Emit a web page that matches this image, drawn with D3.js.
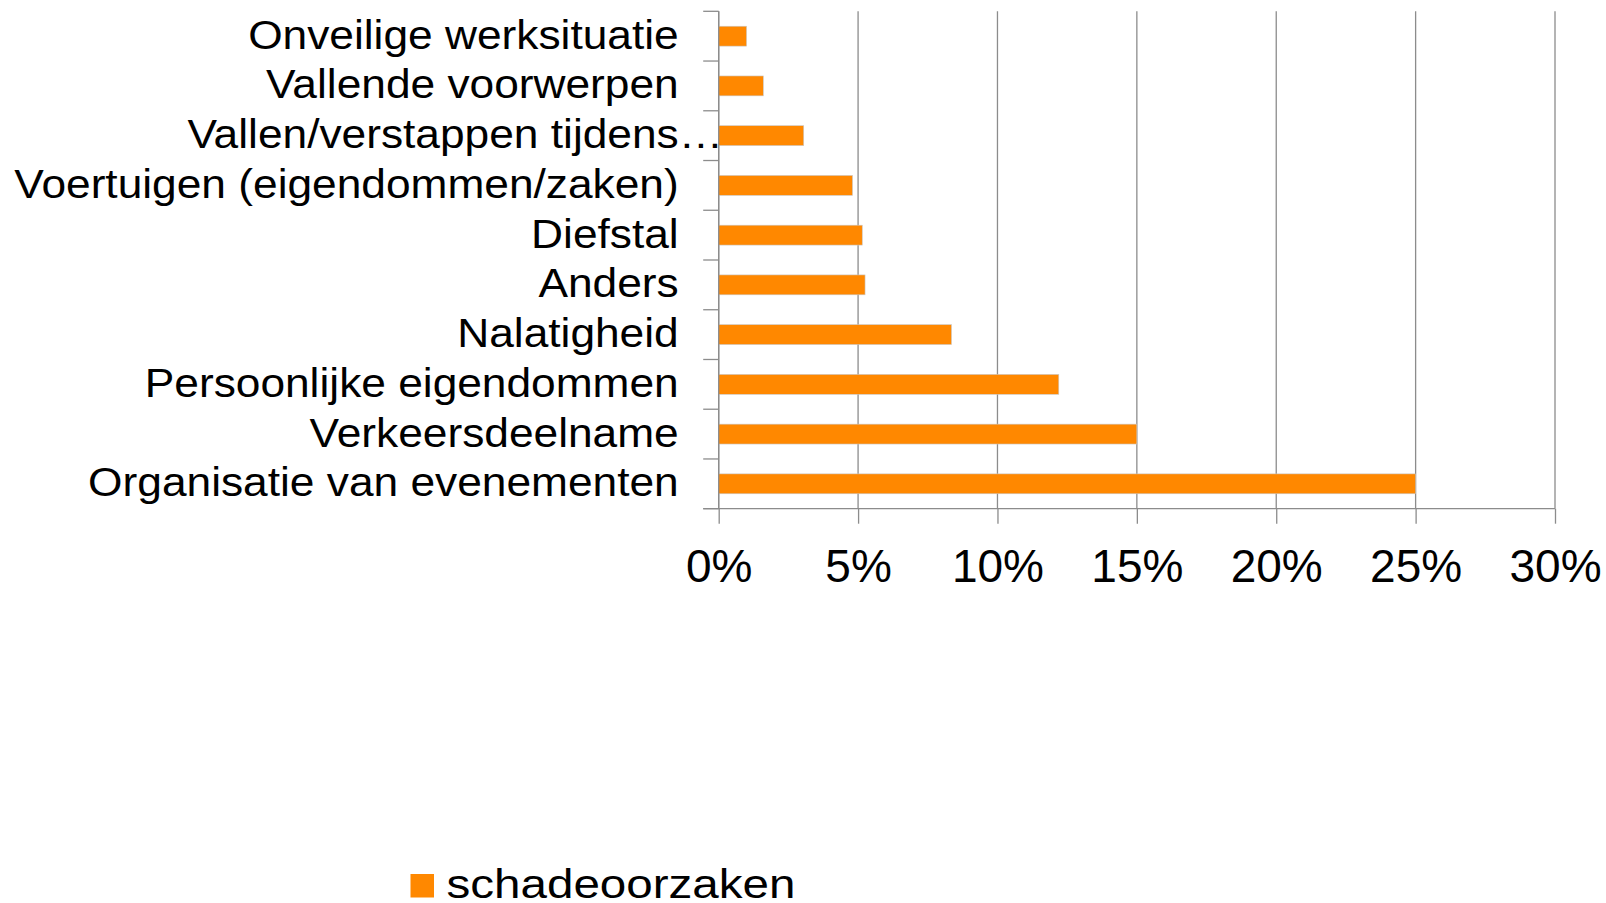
<!DOCTYPE html>
<html>
<head>
<meta charset="utf-8">
<script src="https://cdn.jsdelivr.net/npm/d3@7"></script>
<style>
  body { margin: 0; background: #fff; }
  svg { display: block; font-family: "Liberation Sans", Arial, sans-serif; }
</style>
</head>
<body>
<svg></svg>
<script>
// categories from top to bottom, as in the chart
var categories = [
    "Onveilige werksituatie",
    "Vallende voorwerpen",
    "Vallen/verstappen tijdens…",
    "Voertuigen (eigendommen/zaken)",
    "Diefstal",
    "Anders",
    "Nalatigheid",
    "Persoonlijke eigendommen",
    "Verkeersdeelname",
    "Organisatie van evenementen"
];
// share per category (percent)
var values = [1.0, 1.6, 3.05, 4.8, 5.15, 5.25, 8.35, 12.2, 15.0, 25.0];
var xTicks = [0, 5, 10, 15, 20, 25, 30];
var seriesName = "schadeoorzaken";

var svgWidth = 1606, svgHeight = 903;
var margin = { top: 11.3, right: 51, bottom: 394.3, left: 718.7 };
var width = svgWidth - margin.left - margin.right;
var height = svgHeight - margin.top - margin.bottom;
var barColor = "#ff8800";
var gridColor = "#8c8c8c";

var svg = d3.select("svg")
    .attr("width", svgWidth)
    .attr("height", svgHeight);

var g = svg.append("g")
    .attr("transform", "translate(" + margin.left + "," + margin.top + ")");

var x = d3.scaleLinear()
    .domain([0, 30])
    .range([0, width]);

// paddingOuter = paddingInner / 2 keeps step = height / n
var y = d3.scaleBand()
    .domain(categories)
    .range([0, height])
    .paddingInner(0.6)
    .paddingOuter(0.3);

//vertical gridlines
g.append("g")
    .selectAll("line")
    .data(xTicks)
    .enter().append("line")
    .attr("x1", function(d) { return x(d); })
    .attr("x2", function(d) { return x(d); })
    .attr("y1", 0)
    .attr("y2", height)
    .attr("stroke", gridColor)
    .attr("stroke-width", 1.3);

//bars
g.append("g")
    .selectAll("rect")
    .data(values)
    .enter().append("rect")
    .attr("x", x(0))
    .attr("y", function(d, i) { return y(categories[i]); })
    .attr("width", function(d) { return x(d) - x(0); })
    .attr("height", y.bandwidth())
    .attr("fill", barColor)
    .attr("stroke", "#c9c9c9")
    .attr("stroke-width", 0.6);

//bottom axis
var xAxis = g.append("g")
    .attr("transform", "translate(0," + height + ")")
    .call(d3.axisBottom(x)
        .tickValues(xTicks)
        .tickSize(15)
        .tickPadding(0)
        .tickFormat(function(d) { return d + "%"; }));
xAxis.select(".domain").remove();
xAxis.selectAll("line").attr("stroke", gridColor).attr("stroke-width", 1.3);
xAxis.selectAll("text")
    .attr("y", 73)
    .attr("dy", 0)
    .attr("fill", "#000")
    .style("font-size", "46px");
xAxis.append("line")
    .attr("x1", -15.5)
    .attr("x2", width)
    .attr("stroke", gridColor)
    .attr("stroke-width", 1.3);

//left axis: line plus ticks on the category boundaries
var step = y.step();
var yAxis = g.append("g");
yAxis.append("line")
    .attr("y1", 0)
    .attr("y2", height)
    .attr("stroke", gridColor)
    .attr("stroke-width", 1.3);
yAxis.selectAll(".bound")
    .data(d3.range(categories.length + 1))
    .enter().append("line")
    .attr("class", "bound")
    .attr("x1", -15.5)
    .attr("x2", 0)
    .attr("y1", function(i) { return i * step; })
    .attr("y2", function(i) { return i * step; })
    .attr("stroke", gridColor)
    .attr("stroke-width", 1.3);

//category labels (slightly wide type), the ellipsis of a cut label hangs past the label edge
var labelX = -40;
var labels = yAxis.selectAll(".label")
    .data(categories)
    .enter().append("g")
    .attr("class", "label")
    .attr("transform", function(d) {
        return "translate(" + labelX + "," + (y(d) + y.bandwidth() / 2 + 12.5) + ") scale(1.08,1)";
    });
labels.append("text")
    .attr("text-anchor", "end")
    .attr("fill", "#000")
    .style("font-size", "41px")
    .text(function(d) { return d.replace("…", ""); });
labels.filter(function(d) { return d.indexOf("…") >= 0; })
    .append("text")
    .attr("text-anchor", "start")
    .attr("fill", "#000")
    .style("font-size", "41px")
    .text("…");

//legend
var legend = svg.append("g")
    .attr("transform", "translate(410.5,874)");
legend.append("rect")
    .attr("width", 23.5)
    .attr("height", 23.5)
    .attr("fill", barColor);
legend.append("text")
    .attr("transform", "translate(36,23.5) scale(1.16,1)")
    .attr("fill", "#000")
    .style("font-size", "41px")
    .text(seriesName);
</script>
</body>
</html>
